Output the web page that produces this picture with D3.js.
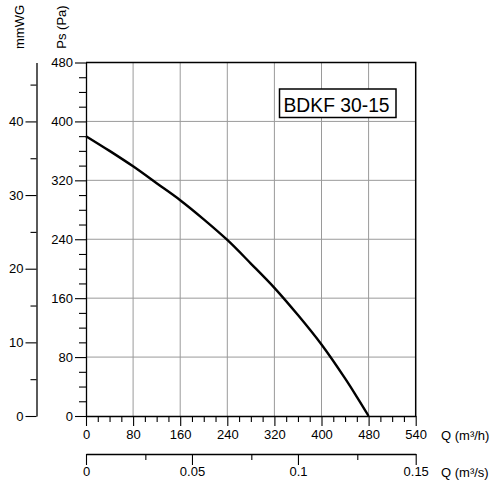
<!DOCTYPE html>
<html>
<head>
<meta charset="utf-8">
<script src="https://cdn.jsdelivr.net/npm/d3@7"></script>
<style>
  body { margin: 0; background: #fff; }
  svg { display: block; font-family: "Liberation Sans", Arial, sans-serif; }
</style>
</head>
<body>
<svg id="chart"></svg>
<script>
var width = 494;
var height = 491;

// fan curve, Q in m3/h and static pressure in Pa
var flowQ = [0, 40, 80, 120, 160, 200, 240, 280, 320, 360, 400, 440, 460, 480];
var pressPa = [380, 360, 339, 316, 293, 267, 239, 207, 174, 137, 97, 51, 26, 0];

var qMajor = [0, 80, 160, 240, 320, 400, 480, 540];
var qMinor = [20, 40, 60, 100, 120, 140, 180, 200, 220, 260, 280, 300, 340, 360, 380, 420, 440, 460, 495, 510, 525];
var paMajor = [0, 80, 160, 240, 320, 400, 480];
var paMinor = [20, 40, 60, 100, 120, 140, 180, 200, 220, 260, 280, 300, 340, 360, 380, 420, 440, 460];
var mmMajor = [0, 10, 20, 30, 40];
var mmMinor = [5, 15, 25, 35, 45];
var qsMajor = [0, 0.05, 0.1, 0.15];
var qsMinor = [0.028, 0.078, 0.128];
var modelName = "BDKF 30-15";

var plotL = 86, plotR = 415.7, plotT = 62.5, plotB = 416;

var svg = d3.select("#chart").attr("width", width).attr("height", height);

// the last interval (480-540) is drawn as wide as the others in the original
var x = d3.scaleLinear().domain([0, 480, 540]).range([plotL, plotL + (plotR - plotL) * 6 / 7, plotR]);
var xs = d3.scaleLinear().domain(x.domain().map(function (d) { return d / 3600; })).range(x.range());
var y = d3.scaleLinear().domain([0, 480]).range([plotB, plotT]);
var ymm = d3.scaleLinear().domain([0, 48]).range([plotB, plotT]);

// grid
var grid = svg.append("g").attr("stroke", "#9a9a9a").attr("stroke-width", 1);
grid.selectAll("line.v")
    .data(qMajor.filter(function (d) { return d > 0 && d < 540; }))
    .enter().append("line")
    .attr("x1", function (d) { return x(d); })
    .attr("x2", function (d) { return x(d); })
    .attr("y1", y(0)).attr("y2", y(480));
grid.selectAll("line.h")
    .data(paMajor.filter(function (d) { return d > 0 && d < 480; }))
    .enter().append("line")
    .attr("y1", function (d) { return y(d); })
    .attr("y2", function (d) { return y(d); })
    .attr("x1", x(0)).attr("x2", x(540));

// frame top + right
svg.append("path")
    .attr("d", "M" + x(0) + "," + y(480) + "H" + x(540) + "V" + y(0))
    .attr("fill", "none").attr("stroke", "#000").attr("stroke-width", 1.5);

function styleAxis(g) {
    g.selectAll("path.domain").attr("stroke", "#000").attr("stroke-width", 1.3);
    g.selectAll(".tick line").attr("stroke", "#000").attr("stroke-width", 1.1);
    g.selectAll("text").attr("fill", "#000").style("font-size", "13px")
        .style("font-family", "'Liberation Sans', Arial, sans-serif");
}

// Pa axis
svg.append("g").attr("transform", "translate(" + plotL + ",0)")
    .call(d3.axisLeft(y).tickValues(paMinor).tickSize(7).tickFormat(""))
    .call(function (g) { g.select(".domain").remove(); })
    .call(styleAxis);
svg.append("g").attr("transform", "translate(" + plotL + ",0)")
    .call(d3.axisLeft(y).tickValues(paMajor).tickSize(11).tickPadding(2).tickSizeOuter(0))
    .call(styleAxis);

// mmWG axis
var mmX = 36.5;
svg.append("g").attr("transform", "translate(" + mmX + ",0)")
    .call(d3.axisLeft(ymm).tickValues(mmMinor).tickSize(6).tickFormat(""))
    .call(function (g) { g.select(".domain").remove(); })
    .call(styleAxis);
svg.append("g").attr("transform", "translate(" + mmX + ",0)")
    .call(d3.axisLeft(ymm).tickValues(mmMajor).tickSize(11).tickPadding(2).tickSizeOuter(0))
    .call(styleAxis);

// Q m3/h axis
svg.append("g").attr("transform", "translate(0," + plotB + ")")
    .call(d3.axisBottom(x).tickValues(qMinor).tickSize(6).tickFormat(""))
    .call(function (g) { g.select(".domain").remove(); })
    .call(styleAxis);
svg.append("g").attr("transform", "translate(0," + plotB + ")")
    .call(d3.axisBottom(x).tickValues(qMajor).tickSize(10).tickPadding(4).tickSizeOuter(0))
    .call(styleAxis);

// Q m3/s axis
var qsY = 454;
svg.append("g").attr("transform", "translate(0," + qsY + ")")
    .call(d3.axisBottom(xs).tickValues(qsMinor).tickSize(6).tickFormat(""))
    .call(function (g) { g.select(".domain").remove(); })
    .call(styleAxis);
svg.append("g").attr("transform", "translate(0," + qsY + ")")
    .call(d3.axisBottom(xs).tickValues(qsMajor).tickSize(11).tickPadding(2).tickSizeOuter(0)
        .tickFormat(function (d) { return d === 0 ? "0" : String(d); }))
    .call(styleAxis);

// curve
var line = d3.line()
    .x(function (d) { return x(d[0]); })
    .y(function (d) { return y(d[1]); })
    .curve(d3.curveCatmullRom);
svg.append("path")
    .datum(flowQ.map(function (q, i) { return [q, pressPa[i]]; }))
    .attr("d", line)
    .attr("fill", "none")
    .attr("stroke", "#000")
    .attr("stroke-width", 2.4);

// model label
svg.append("rect")
    .attr("x", 279.5).attr("y", 89).attr("width", 116.5).attr("height", 28.5)
    .attr("fill", "#fff").attr("stroke", "#000").attr("stroke-width", 1.5);
svg.append("text")
    .attr("x", 283.5).attr("y", 111.5)
    .style("font-size", "19.3px")
    .text(modelName);

// axis titles
svg.append("text")
    .attr("transform", "translate(24,27) rotate(-90)")
    .attr("text-anchor", "middle")
    .style("font-size", "13px")
    .text("mmWG");
svg.append("text")
    .attr("transform", "translate(66,27) rotate(-90)")
    .attr("text-anchor", "middle")
    .style("font-size", "13px")
    .text("Ps (Pa)");
svg.append("text")
    .attr("x", 441).attr("y", 440)
    .style("font-size", "13px")
    .text("Q (m³/h)");
svg.append("text")
    .attr("x", 441).attr("y", 477)
    .style("font-size", "13px")
    .text("Q (m³/s)");
</script>
</body>
</html>
